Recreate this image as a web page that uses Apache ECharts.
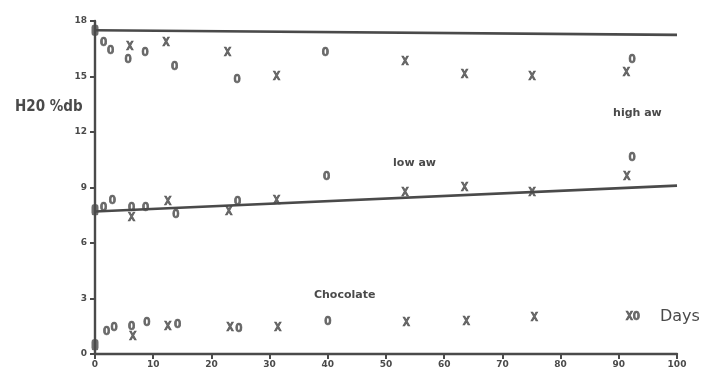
<!DOCTYPE html>
<html>
<head>
<meta charset="utf-8">
<script src="https://cdn.jsdelivr.net/npm/echarts@6/dist/echarts.min.js"></script>
<style>
  html, body { margin: 0; padding: 0; background: #fff; }
  #chart { width: 714px; height: 376px; }
</style>
</head>
<body>
<div id="chart"></div>
<script>
// Moisture content (H2O % dry basis) against storage time in days.
const xTicks = [0, 10, 20, 30, 40, 50, 60, 70, 80, 90, 100];
const yTicks = [0, 3, 6, 9, 12, 15, 18];

// high aw samples
const highXDays = [6.0, 12.2, 22.8, 31.2, 53.3, 63.5, 75.1, 91.3];
const highXVals = [16.6, 16.8, 16.3, 15.0, 15.8, 15.1, 15.0, 15.2];
const highODays = [1.5, 2.7, 5.7, 8.6, 13.7, 24.4, 39.6, 92.3];
const highOVals = [16.8, 16.4, 15.9, 16.3, 15.5, 14.8, 16.3, 15.9];

// low aw samples
const lowXDays = [6.3, 12.5, 23.0, 31.2, 53.3, 63.5, 75.1, 91.4];
const lowXVals = [7.35, 8.2, 7.7, 8.3, 8.7, 9.0, 8.7, 9.6];
const lowODays = [1.5, 3.0, 6.3, 8.7, 13.9, 24.5, 39.8, 92.3];
const lowOVals = [7.9, 8.3, 7.9, 7.9, 7.5, 8.2, 9.6, 10.6];

// chocolate samples
const chocXDays = [6.5, 12.5, 23.2, 31.4, 53.5, 63.8, 75.5, 91.8];
const chocXVals = [0.9, 1.45, 1.4, 1.4, 1.7, 1.75, 1.95, 2.0];
const chocODays = [2.0, 3.3, 6.3, 8.9, 14.2, 24.7, 40.0, 93.0];
const chocOVals = [1.2, 1.4, 1.45, 1.7, 1.6, 1.35, 1.75, 2.0];

// starting values at day 0
const startDays = [0, 0, 0];
const startVals = [17.5, 7.8, 0.5];

// fitted trend lines (day, value)
const highFitDays = [0, 100];
const highFitVals = [17.5, 17.25];
const lowFitDays = [0, 100];
const lowFitVals = [7.7, 9.1];

const ink = '#4a4a4a';
const zip = (a, b) => a.map((v, i) => [v, b[i]]);

function markSeries(days, vals, glyph) {
  return {
    type: 'scatter',
    data: zip(days, vals),
    symbol: 'circle',
    symbolSize: 2,
    itemStyle: { color: 'rgba(0,0,0,0)' },
    silent: true,
    label: {
      show: true,
      position: 'inside',
      formatter: glyph,
      fontFamily: 'DejaVu Sans Mono',
      fontWeight: 'bold',
      fontSize: 12,
      color: ink,
      textBorderColor: ink,
      textBorderWidth: 0.7
    },
    z: 5
  };
}

function fitSeries(days, vals) {
  return {
    type: 'line',
    data: zip(days, vals),
    showSymbol: false,
    lineStyle: { color: ink, width: 2.6 },
    silent: true,
    z: 3
  };
}

const chart = echarts.init(document.getElementById('chart'), null, { renderer: 'canvas' });

const axisFont = {
  fontFamily: 'DejaVu Sans',
  fontWeight: 'bold',
  fontSize: 9,
  color: ink
};

chart.setOption({
  animation: false,
  backgroundColor: '#fff',
  grid: { left: 95, right: 37, top: 21, bottom: 22 },
  xAxis: {
    type: 'value',
    min: 0, max: 100, interval: 10,
    splitLine: { show: false },
    axisLine: { lineStyle: { color: ink, width: 2.4 } },
    axisTick: { show: true, length: 5, inside: false, lineStyle: { color: ink, width: 2 } },
    axisLabel: Object.assign({ margin: 6, formatter: v => xTicks.includes(v) ? String(v) : '' }, axisFont)
  },
  yAxis: {
    type: 'value',
    min: 0, max: 18, interval: 3,
    splitLine: { show: false },
    axisLine: { show: true, lineStyle: { color: ink, width: 2.4 } },
    axisTick: { show: true, length: 5, lineStyle: { color: ink, width: 2 } },
    axisLabel: Object.assign({ margin: 8, formatter: v => yTicks.includes(v) ? String(v) : '' }, axisFont)
  },
  series: [
    fitSeries(highFitDays, highFitVals),
    fitSeries(lowFitDays, lowFitVals),
    markSeries(highXDays, highXVals, 'X'),
    markSeries(highODays, highOVals, 'O'),
    markSeries(lowXDays, lowXVals, 'X'),
    markSeries(lowODays, lowOVals, 'O'),
    markSeries(chocXDays, chocXVals, 'X'),
    markSeries(chocODays, chocOVals, 'O'),
    {
      type: 'scatter',
      data: zip(startDays, startVals),
      symbol: 'roundRect',
      symbolSize: [7, 11],
      itemStyle: { color: ink },
      silent: true,
      z: 6
    }
  ]
});

// Text annotations anchored in data coordinates.
const notes = [
  { text: 'high aw', at: [93.2, 13.0], size: 11, weight: 'bold', family: 'DejaVu Sans' },
  { text: 'low aw', at: [54.9, 10.3], size: 11, weight: 'bold', family: 'DejaVu Sans' },
  { text: 'Chocolate', at: [42.9, 3.2], size: 11, weight: 'bold', family: 'DejaVu Sans' },
  { text: 'Days', at: [100.5, 2.0], size: 16, weight: 'normal', family: 'DejaVu Sans' }
];

const graphics = notes.map(n => {
  const p = chart.convertToPixel({ gridIndex: 0 }, n.at);
  return {
    type: 'text',
    x: p[0], y: p[1],
    style: {
      text: n.text,
      fill: ink,
      font: n.weight + ' ' + n.size + 'px "' + n.family + '"',
      textAlign: 'center',
      textVerticalAlign: 'middle'
    },
    z: 10
  };
});

graphics.push({
  type: 'text',
  left: 15, top: 100,
  style: {
    text: 'H20 %db',
    fill: ink,
    font: 'bold 15px "DejaVu Sans Condensed", "DejaVu Sans"'
  },
  z: 10
});

chart.setOption({ graphic: graphics });
</script>
</body>
</html>
